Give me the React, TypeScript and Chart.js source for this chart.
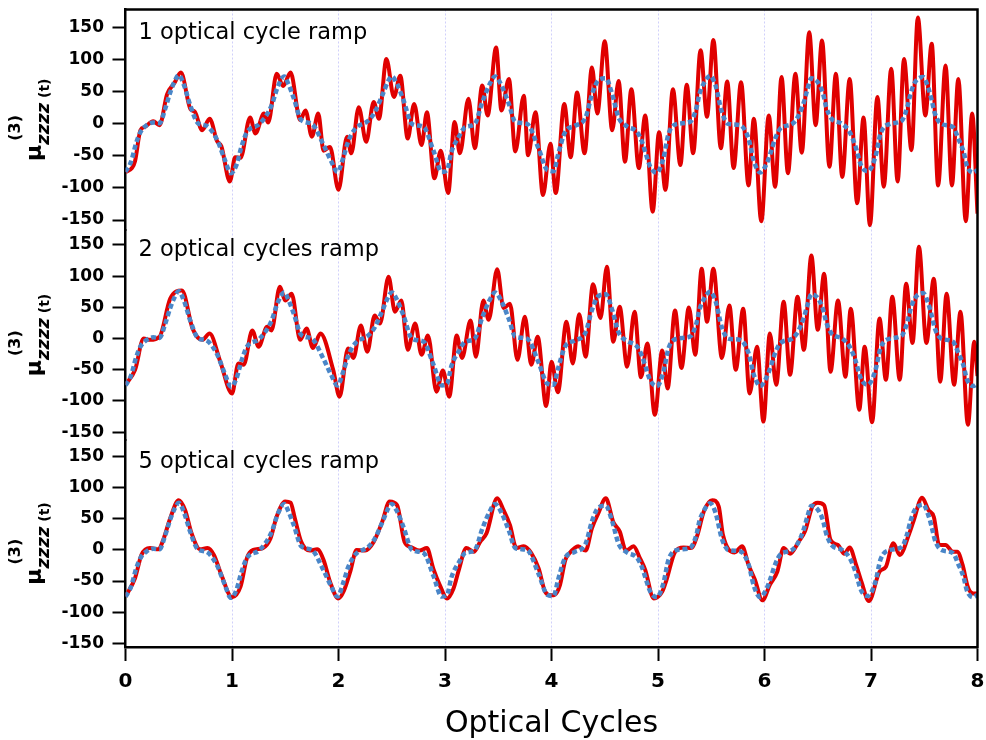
import { useEffect, useRef } from "react";
import { Chart, registerables } from "chart.js";

Chart.register(...registerables);

type Pair = [number, number];

// Axis ticks and captions
const cycleTicks = [0, 1, 2, 3, 4, 5, 6, 7, 8];
const muTicks = [-150, -100, -50, 0, 50, 100, 150];
const panelTitles = ["1 optical cycle ramp", "2 optical cycles ramp", "5 optical cycles ramp"];
const xTitle = "Optical Cycles";

// μ(3)zzzz(t) for a 1-cycle ramp (turning points and shoulders)
const ramp1: Pair[] = [
  [0, -75], [0.06, -69], [0.09, -58], [0.14, -10], [0.18, -5], [0.26, 4], [0.32, -2], [0.39, 46], [0.46, 64], [0.52, 80],
  [0.61, 23], [0.65, 19], [0.72, -10], [0.79, 8], [0.86, -27], [0.9, -35], [0.98, -90],
  [1.03, -52], [1.08, -53], [1.17, 10], [1.22, -15], [1.3, 16], [1.34, 2], [1.42, 78], [1.48, 59], [1.55, 80], [1.64, 6],
  [1.69, 21], [1.75, -20], [1.81, 16], [1.86, -42], [1.92, -36], [2.0, -103],
  [2.08, -20], [2.12, -46], [2.19, 26], [2.26, -28], [2.33, 34], [2.38, 8], [2.45, 101], [2.52, 42], [2.58, 75], [2.65, -23],
  [2.71, 31], [2.78, -33], [2.83, 18], [2.9, -85], [2.96, -42], [3.03, -108],
  [3.09, 3], [3.14, -46], [3.22, 39], [3.28, -38], [3.35, 60], [3.4, 13], [3.48, 119], [3.53, 21], [3.6, 70], [3.66, -43],
  [3.74, 44], [3.78, -49], [3.85, 18], [3.92, -111], [3.99, -31],
  [4.04, -108], [4.12, 31], [4.18, -52], [4.24, 49], [4.31, -46], [4.38, 88], [4.43, 16], [4.5, 129], [4.57, -10], [4.63, 67],
  [4.69, -59], [4.75, 54], [4.82, -69], [4.88, 13], [4.95, -137], [5.01, -13], [5.07, -103],
  [5.14, 54], [5.21, -64], [5.27, 61], [5.33, -46], [5.4, 115], [5.46, 11], [5.52, 131], [5.59, -38], [5.65, 66], [5.71, -69],
  [5.78, 65], [5.85, -96], [5.9, 8], [5.97, -152], [6.04, 13],
  [6.1, -98], [6.16, 73], [6.22, -77], [6.29, 78], [6.35, -45], [6.42, 143], [6.48, -2], [6.54, 130], [6.61, -67], [6.67, 78],
  [6.73, -83], [6.8, 70], [6.87, -124], [6.93, 10], [6.99, -158], [7.06, 42],
  [7.12, -98], [7.19, 86], [7.25, -90], [7.31, 101], [7.38, -41], [7.44, 166], [7.51, 13], [7.57, 125], [7.63, -96], [7.7, 91],
  [7.76, -96], [7.82, 70], [7.89, -152], [7.95, 16], [8.0, -140],
];

// μ(3)zzzz(t) for a 2-cycle ramp
const ramp2: Pair[] = [
  [0, -74], [0.09, -50], [0.17, 0], [0.23, -2], [0.32, 3], [0.42, 64], [0.53, 77], [0.63, 16], [0.72, -2], [0.79, 8],
  [0.89, -37], [1.0, -88],
  [1.06, -40], [1.11, -42], [1.19, 13], [1.25, -13], [1.33, 19], [1.37, 13], [1.45, 83], [1.5, 61], [1.56, 72], [1.64, -2],
  [1.7, 16], [1.76, -15], [1.83, 8], [1.95, -50], [2.01, -93],
  [2.09, -16], [2.14, -31], [2.21, 21], [2.27, -21], [2.34, 37], [2.39, 24], [2.47, 99], [2.53, 43], [2.59, 61], [2.65, -18],
  [2.72, 24], [2.78, -26], [2.84, 5], [2.92, -85], [2.98, -51], [3.04, -93],
  [3.11, 5], [3.16, -31], [3.24, 29], [3.29, -29], [3.36, 61], [3.41, 30], [3.49, 111], [3.55, 49], [3.61, 56], [3.68, -34],
  [3.75, 35], [3.81, -42], [3.87, 3], [3.95, -108], [4.0, -37],
  [4.06, -86], [4.14, 27], [4.2, -40], [4.26, 39], [4.32, -29], [4.39, 87], [4.46, 33], [4.52, 115], [4.58, -5], [4.64, 51],
  [4.71, -45], [4.78, 43], [4.84, -62], [4.9, -8], [4.97, -122], [5.04, -19], [5.09, -80],
  [5.16, 45], [5.22, -47], [5.29, 50], [5.35, -26], [5.41, 112], [5.46, 27], [5.52, 112], [5.6, -31], [5.67, 53], [5.73, -50],
  [5.8, 48], [5.86, -88], [5.93, -13], [5.99, -133],
  [6.05, 8], [6.11, -74], [6.18, 59], [6.24, -58], [6.31, 67], [6.37, -18], [6.44, 133], [6.5, 14], [6.56, 104], [6.62, -53],
  [6.69, 61], [6.76, -61], [6.81, 48], [6.89, -114], [6.94, -13], [7.01, -134], [7.08, 32],
  [7.14, -66], [7.2, 67], [7.27, -66], [7.33, 88], [7.39, -7], [7.45, 147], [7.52, -7], [7.59, 96], [7.65, -69], [7.71, 72],
  [7.78, -74], [7.84, 43], [7.91, -138], [7.97, -5], [8.0, -60],
];

// μ(3)zzzz(t) for a 5-cycle ramp
const ramp5: Pair[] = [
  [0, -75], [0.09, -45], [0.15, -8], [0.23, 3], [0.31, 1], [0.36, 19], [0.42, 51], [0.5, 80], [0.56, 64], [0.62, 27],
  [0.7, 1], [0.77, 3], [0.83, -8], [0.9, -40], [1.0, -76],
  [1.08, -59], [1.14, -13], [1.2, 0], [1.29, 3], [1.36, 18], [1.42, 54], [1.5, 78], [1.55, 76], [1.59, 51], [1.65, 13],
  [1.73, -1], [1.8, 1], [1.86, -16], [1.92, -51], [2.0, -78],
  [2.05, -66], [2.11, -35], [2.17, 0], [2.25, -1], [2.33, 13], [2.41, 45], [2.48, 78], [2.55, 72], [2.62, 13], [2.69, 4],
  [2.76, -1], [2.83, 3], [2.89, -30], [2.95, -56], [3.02, -78],
  [3.08, -62], [3.13, -32], [3.2, 3], [3.27, -3], [3.33, 13], [3.39, 27], [3.49, 83], [3.55, 64], [3.61, 40], [3.67, 3],
  [3.74, 6], [3.81, -5], [3.88, -30], [3.94, -67], [4.0, -73],
  [4.03, -72], [4.08, -56], [4.13, -16], [4.17, -5], [4.25, 6], [4.32, -1], [4.38, 35], [4.44, 59], [4.51, 83], [4.58, 45],
  [4.64, 30], [4.7, -1], [4.77, 6], [4.83, -13], [4.88, -32], [4.96, -78],
  [5.04, -67], [5.08, -48], [5.16, -3], [5.24, 4], [5.31, 3], [5.37, 24], [5.43, 62], [5.51, 80], [5.57, 70], [5.61, 24],
  [5.72, -4], [5.79, 6], [5.85, -24], [5.91, -48], [5.98, -81],
  [6.05, -56], [6.12, -35], [6.18, 3], [6.24, -6], [6.32, 13], [6.38, 30], [6.45, 70], [6.5, 76], [6.56, 72], [6.62, 16],
  [6.69, 8], [6.75, -6], [6.8, 4], [6.86, -24], [6.91, -51], [6.98, -82],
  [7.08, -35], [7.14, -27], [7.21, 11], [7.27, -8], [7.36, 27], [7.4, 47], [7.48, 84], [7.54, 64], [7.59, 53], [7.64, 8],
  [7.7, 8], [7.77, -3], [7.81, -3], [7.86, -24], [7.91, -60], [7.96, -70], [8.0, -70],
];

// Adiabatic reference response, shown dotted in every panel
const adiabatic: Pair[] = [
  [0, -75], [0.05, -60], [0.1, -30], [0.14, -13], [0.2, -2], [0.26, 2], [0.32, 1], [0.37, 22], [0.42, 49], [0.46, 66],
  [0.5, 76], [0.55, 60], [0.61, 28], [0.68, 1], [0.76, -3], [0.86, -25], [0.93, -55], [0.99, -77],
  [1.04, -65], [1.09, -35], [1.14, -13], [1.26, 0], [1.37, 28], [1.43, 58], [1.49, 74], [1.53, 62], [1.58, 40], [1.65, 6],
  [1.75, 0], [1.86, -33], [1.93, -58], [1.99, -75],
  [2.05, -50], [2.09, -28], [2.16, -7], [2.28, 5], [2.34, 18], [2.42, 48], [2.47, 68], [2.5, 74], [2.55, 62], [2.61, 37],
  [2.69, 0], [2.8, -5], [2.89, -41], [2.97, -75],
  [3.02, -72], [3.06, -44], [3.13, -20], [3.19, -5], [3.28, 0], [3.35, 34], [3.42, 62], [3.47, 74], [3.53, 60], [3.6, 31],
  [3.66, 3], [3.77, 0], [3.88, -39], [3.96, -72],
  [4.02, -74], [4.06, -49], [4.13, -12], [4.22, -3], [4.32, 10], [4.38, 46], [4.44, 68], [4.51, 71], [4.57, 46], [4.63, 10],
  [4.71, -4], [4.8, -12], [4.85, -28], [4.89, -49], [4.93, -68], [4.99, -76],
  [5.05, -54], [5.1, -15], [5.18, 0], [5.3, 3], [5.36, 24], [5.39, 47], [5.43, 63], [5.49, 75], [5.54, 60], [5.6, 18],
  [5.66, 0], [5.77, -2], [5.85, -23], [5.9, -58], [5.96, -76],
  [6.02, -62], [6.06, -44], [6.1, -23], [6.15, -7], [6.26, 0], [6.32, 13], [6.37, 34], [6.4, 52], [6.44, 71], [6.5, 65],
  [6.55, 47], [6.58, 26], [6.63, 8], [6.73, 0], [6.8, -13], [6.85, -33], [6.91, -66], [6.97, -74],
  [7.04, -52], [7.09, -15], [7.18, 0], [7.29, 5], [7.34, 26], [7.37, 46], [7.41, 64], [7.49, 73], [7.54, 55], [7.57, 37],
  [7.6, 16], [7.66, 0], [7.77, -5], [7.82, -23], [7.87, -44], [7.9, -65], [7.96, -76], [8.0, -72],
];

const FONT = "'DejaVu Sans', 'Liberation Sans', sans-serif";
const RED = "#e00000";
const BLUE = "#4a86c8";

// Three stacked panels sharing the time axis (top to bottom)
const panels = [
  { id: "y1", title: panelTitles[0], series: ramp1, min: -165.6, max: 178.4, share: 220.5, layer: 3 },
  { id: "y2", title: panelTitles[1], series: ramp2, min: -162.5, max: 174, share: 210, layer: 2 },
  { id: "y3", title: panelTitles[2], series: ramp5, min: -156, max: 176.8, share: 207, layer: 1 },
];

const toPoints = (pairs: Pair[]) => pairs.map(([x, y]) => ({ x, y }));

function drawMuLabel(ctx: CanvasRenderingContext2D, cx: number, cy: number) {
  ctx.save();
  ctx.translate(cx, cy);
  ctx.rotate(-Math.PI / 2);
  ctx.fillStyle = "#000";
  ctx.textAlign = "left";
  ctx.textBaseline = "alphabetic";
  const muFont = `bold 22px ${FONT}`;
  const subFont = `italic bold 18px ${FONT}`;
  const supFont = `bold 16px ${FONT}`;
  const argFont = `bold 14px ${FONT}`;
  ctx.font = muFont;
  const wMu = ctx.measureText("μ").width;
  ctx.font = subFont;
  const wSub = ctx.measureText("zzzz").width;
  ctx.font = argFont;
  const wArg = ctx.measureText(" (t)").width;
  let s = -(wMu + wSub + wArg) / 2;
  ctx.font = muFont;
  ctx.fillText("μ", s, 0);
  s += wMu;
  ctx.font = supFont;
  ctx.fillText("(3)", s + 4, -21);
  ctx.font = subFont;
  ctx.fillText("zzzz", s, 8);
  s += wSub;
  ctx.font = argFont;
  ctx.fillText(" (t)", s, 8);
  ctx.restore();
}

const decorations = {
  id: "decorations",
  afterDraw(chart: any) {
    const { ctx, chartArea, scales } = chart;
    ctx.save();
    // closing frame on top and right
    ctx.strokeStyle = "#000";
    ctx.lineWidth = 2.5;
    ctx.beginPath();
    ctx.moveTo(chartArea.left - 1.25, chartArea.top);
    ctx.lineTo(chartArea.right, chartArea.top);
    ctx.lineTo(chartArea.right, chartArea.bottom + 1.25);
    ctx.stroke();

    const topTick = muTicks[muTicks.length - 1];
    panels.forEach((p) => {
      const s = scales[p.id];
      ctx.fillStyle = "#000";
      ctx.font = `22.5px ${FONT}`;
      ctx.textAlign = "left";
      ctx.textBaseline = "alphabetic";
      ctx.fillText(p.title, chartArea.left + 13, s.getPixelForValue(topTick) + 11.5);
      drawMuLabel(ctx, 41, (s.top + s.bottom) / 2);
    });

    ctx.fillStyle = "#000";
    ctx.font = `30px ${FONT}`;
    ctx.textAlign = "center";
    ctx.textBaseline = "alphabetic";
    ctx.fillText(xTitle, (chartArea.left + chartArea.right) / 2, 732);
    ctx.restore();
  },
};

export default function App() {
  const canvasRef = useRef<HTMLCanvasElement | null>(null);

  useEffect(() => {
    const canvas = canvasRef.current;
    if (!canvas) return;

    const datasets: any[] = [];
    panels.forEach((p) => {
      datasets.push({
        label: `${p.title} (adiabatic)`,
        data: toPoints(adiabatic),
        yAxisID: p.id,
        borderColor: BLUE,
        borderWidth: 4.5,
        borderDash: [5, 3],
        cubicInterpolationMode: "monotone",
        pointRadius: 0,
        fill: false,
      });
    });
    panels.forEach((p) => {
      datasets.push({
        label: p.title,
        data: toPoints(p.series),
        yAxisID: p.id,
        borderColor: RED,
        borderWidth: 4,
        cubicInterpolationMode: "monotone",
        pointRadius: 0,
        fill: false,
      });
    });

    const scales: any = {
      x: {
        type: "linear",
        min: 0,
        max: 8,
        afterBuildTicks: (s: any) => {
          s.ticks = cycleTicks.map((v) => ({ value: v }));
        },
        afterFit: (s: any) => {
          s.height = 93;
          s.paddingLeft = 0;
          s.paddingRight = 0;
        },
        ticks: {
          font: { family: FONT, size: 20, weight: "bold" },
          color: "#000",
          padding: 9,
          maxRotation: 0,
          autoSkip: false,
        },
        grid: {
          color: "rgba(170,170,245,0.55)",
          lineWidth: 1,
          tickLength: 14,
          tickWidth: 2,
          tickColor: "#000",
          tickBorderDash: [],
        },
        border: { color: "#000", width: 2.5, dash: [2, 2] },
      },
    };
    panels.forEach((p) => {
      scales[p.id] = {
        type: "linear",
        position: "left",
        stack: "panels",
        stackWeight: p.share,
        weight: p.layer,
        min: p.min,
        max: p.max,
        afterBuildTicks: (s: any) => {
          s.ticks = muTicks.map((v) => ({ value: v }));
        },
        afterFit: (s: any) => {
          s.width = 125.5;
          s.paddingTop = 0;
          s.paddingBottom = 0;
        },
        ticks: {
          font: { family: FONT, size: 17, weight: "bold" },
          color: "#000",
          padding: 8.5,
          autoSkip: false,
        },
        grid: {
          drawOnChartArea: false,
          tickLength: 13,
          tickWidth: 2,
          tickColor: "#000",
          color: "#000",
        },
        border: { color: "#000", width: 2.5 },
      };
    });

    const chart = new Chart(canvas, {
      type: "line",
      data: { datasets },
      options: {
        animation: false,
        responsive: false,
        devicePixelRatio: 1,
        events: [],
        layout: { autoPadding: false, padding: { left: 0, right: 8.5, top: 9.5, bottom: 0 } },
        plugins: { legend: { display: false }, tooltip: { enabled: false } },
        scales,
      },
      plugins: [decorations],
    });

    return () => chart.destroy();
  }, []);

  return (
    <div style={{ position: "fixed", left: 0, top: 0, width: 986, height: 740, background: "#fff" }}>
      <canvas ref={canvasRef} width={986} height={740} style={{ display: "block" }} />
    </div>
  );
}
